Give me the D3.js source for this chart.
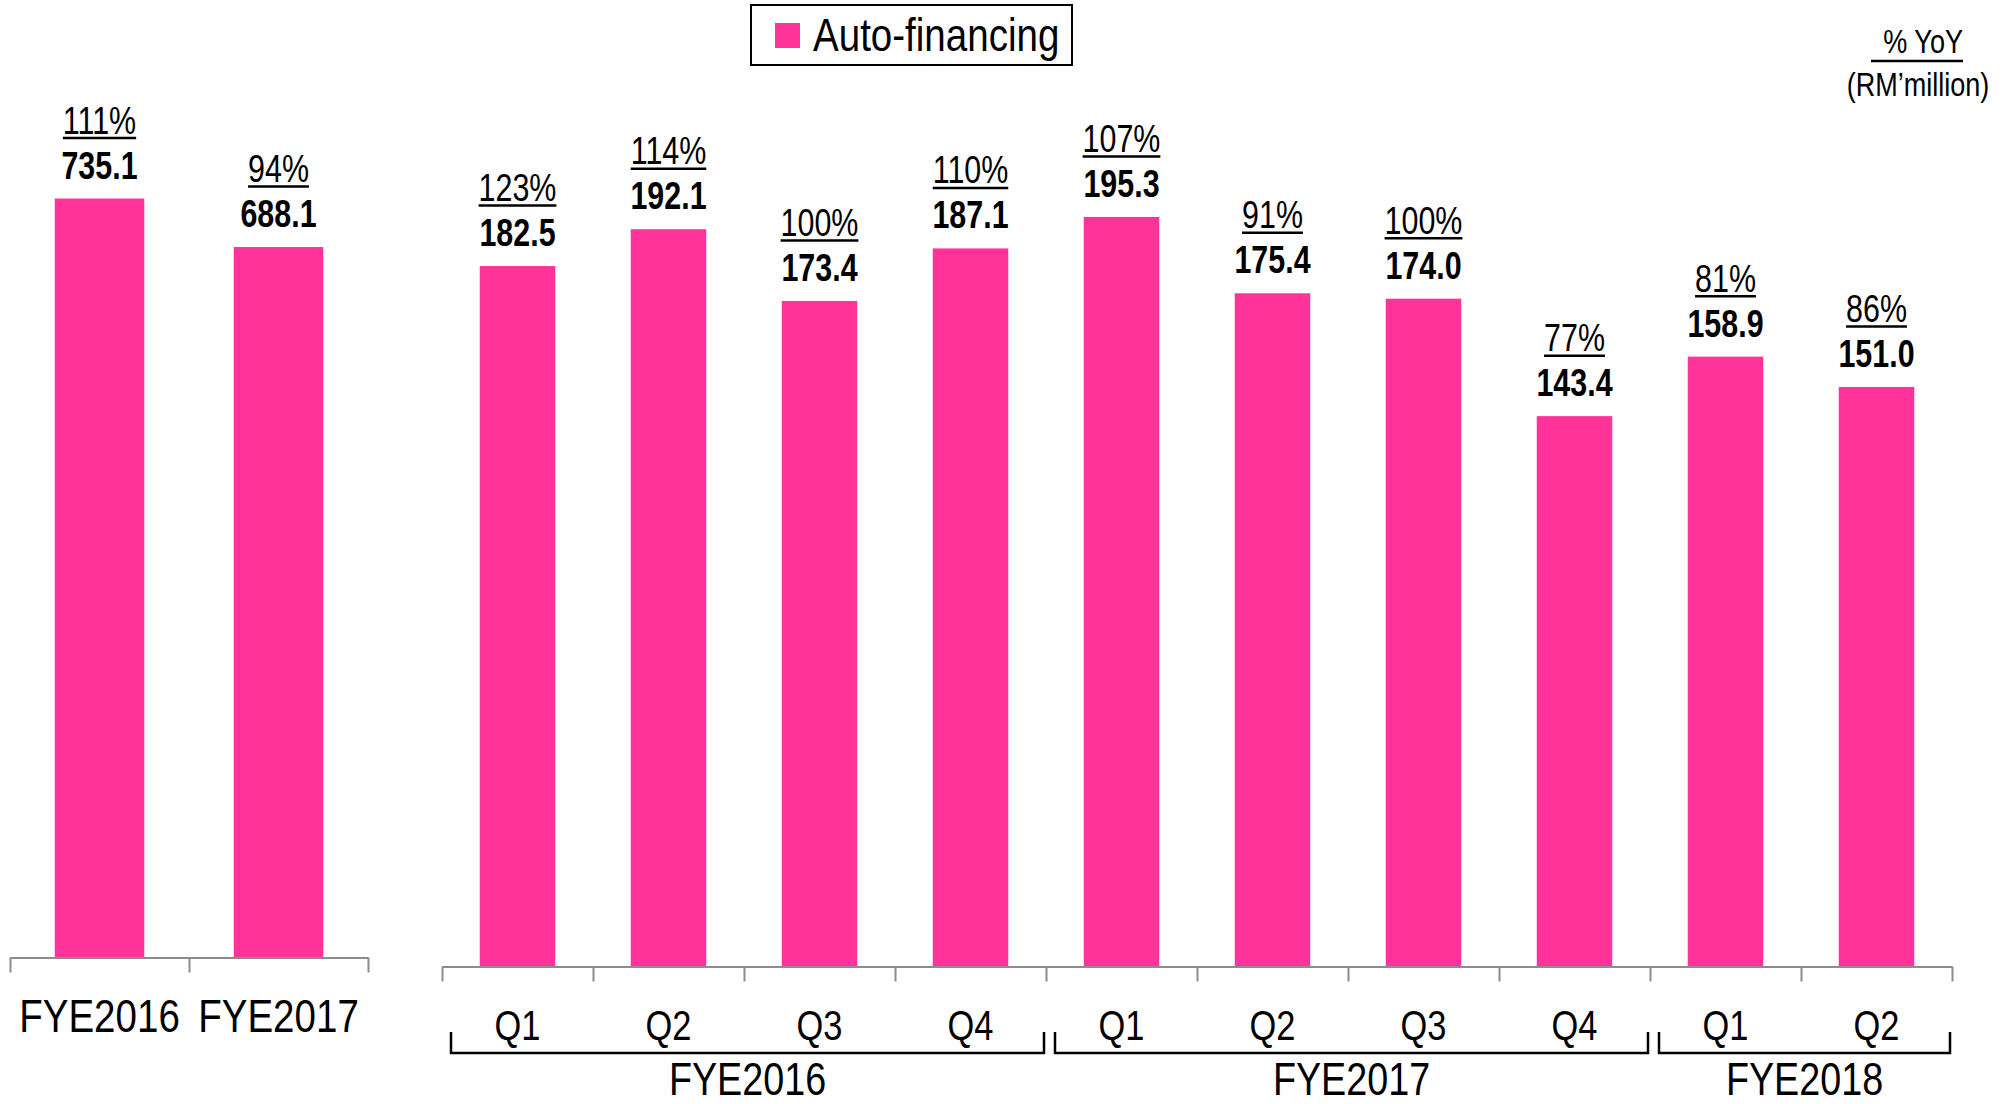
<!DOCTYPE html>
<html>
<head>
<meta charset="utf-8">
<script src="https://cdn.jsdelivr.net/npm/d3@7"></script>
<style>
  body { margin: 0; background: #fff; }
  text { font-family: "Liberation Sans", Arial, sans-serif; fill: #000; }
</style>
</head>
<body>
<script>
// data - annual totals (left) and quarterly (right), RM'million
var yearCats = ["FYE2016", "FYE2017"];
var yearVals = [735.1, 688.1];
var yearYoY = ["111%", "94%"];

var qCats = ["Q1", "Q2", "Q3", "Q4", "Q1", "Q2", "Q3", "Q4", "Q1", "Q2"];
var qVals = [182.5, 192.1, 173.4, 187.1, 195.3, 175.4, 174.0, 143.4, 158.9, 151.0];
var qYoY = ["123%", "114%", "100%", "110%", "107%", "91%", "100%", "77%", "81%", "86%"];

var groupNames = ["FYE2016", "FYE2017", "FYE2018"];
var groupSizes = [4, 4, 2];

var pink = "#ff3399";
var W = 2002, H = 1104;
var SQ = 0.82; // horizontal squeeze, narrow font look

var svg = d3.select("body").append("svg")
    .attr("width", W)
    .attr("height", H);

// put a text (or group) at x,y with narrow squeeze
function at(x, y, s) {
  return "translate(" + x + "," + y + ") scale(" + (s || SQ) + ",1)";
}

// scales
var xL = d3.scaleBand().domain(d3.range(yearVals.length)).range([10, 368]).paddingInner(0.5).paddingOuter(0.25);
var yL = d3.scaleLinear().domain([0, 800]).range([957.5, 957.5 - 800 * 1.0325]);
var bL = d3.scaleLinear().domain([0, yearVals.length]).range([10, 368]); // slot boundaries

var xR = d3.scaleBand().domain(d3.range(qVals.length)).range([442, 1952]).paddingInner(0.5).paddingOuter(0.25);
var yR = d3.scaleLinear().domain([0, 200]).range([966.5, 966.5 - 200 * 3.838]);
var bR = d3.scaleLinear().domain([0, qVals.length]).range([442, 1952]);

// draw one panel: bars, labels, axis
function panel(vals, yoy, cats, x, y, b, catSize, catY) {
  var g = svg.append("g");
  var cx = function(i) { return x(i) + x.bandwidth() / 2; };

  g.selectAll("rect.bar").data(vals).enter().append("rect")
      .attr("class", "bar")
      .attr("x", function(d, i) { return x(i); })
      .attr("y", function(d) { return y(d); })
      .attr("width", x.bandwidth())
      .attr("height", function(d) { return y(0) - y(d); })
      .attr("fill", pink);

  g.selectAll("text.val").data(vals).enter().append("text")
      .attr("class", "val")
      .attr("transform", function(d, i) { return at(cx(i), y(d) - 20, 0.78); })
      .attr("text-anchor", "middle")
      .style("font-size", "39px")
      .style("font-weight", "bold")
      .text(function(d) { return d.toFixed(1); });

  var pct = g.selectAll("g.pct").data(yoy).enter().append("g")
      .attr("class", "pct")
      .attr("transform", function(d, i) { return at(cx(i), y(vals[i]) - 65, 0.78); });
  pct.append("text")
      .attr("text-anchor", "middle")
      .style("font-size", "39px")
      .text(function(d) { return d; });
  pct.each(function() {
    var t = d3.select(this).select("text").node().getBBox();
    d3.select(this).append("line")
        .attr("x1", t.x).attr("x2", t.x + t.width)
        .attr("y1", 4.5).attr("y2", 4.5)
        .attr("stroke", "#000").attr("stroke-width", 2.5);
  });

  // axis with ticks on slot boundaries
  var ax = g.append("g")
      .attr("transform", "translate(0," + y(0) + ")")
      .call(d3.axisBottom(b).tickValues(d3.range(vals.length + 1)).tickFormat("").tickSize(15).tickSizeOuter(0));
  ax.select(".domain").attr("stroke", "#8c8c8c").attr("stroke-width", 2);
  ax.selectAll(".tick line").attr("stroke", "#8c8c8c").attr("stroke-width", 2);

  g.selectAll("text.cat").data(cats).enter().append("text")
      .attr("class", "cat")
      .attr("transform", function(d, i) { return at(cx(i), catY); })
      .attr("text-anchor", "middle")
      .style("font-size", catSize + "px")
      .text(function(d) { return d; });
}

panel(yearVals, yearYoY, yearCats, xL, yL, bL, 47, 1032);
panel(qVals, qYoY, qCats, xR, yR, bR, 42, 1040);

// group brackets under quarters
var start = 0;
groupNames.forEach(function(name, k) {
  var x0 = bR(start) + 9, x1 = bR(start + groupSizes[k]) - 2;
  svg.append("path")
      .attr("d", "M" + x0 + ",1032V1053H" + x1 + "V1032")
      .attr("fill", "none")
      .attr("stroke", "#000")
      .attr("stroke-width", 2.5);
  svg.append("text")
      .attr("transform", at((x0 + x1) / 2, 1095))
      .attr("text-anchor", "middle")
      .style("font-size", "46px")
      .text(name);
  start += groupSizes[k];
});

// legend
var leg = svg.append("g");
leg.append("rect")
    .attr("x", 751).attr("y", 5).attr("width", 321).attr("height", 60)
    .attr("fill", "#fff").attr("stroke", "#000").attr("stroke-width", 2);
leg.append("rect")
    .attr("x", 775).attr("y", 23).attr("width", 25).attr("height", 25)
    .attr("fill", pink);
leg.append("text")
    .attr("transform", at(813, 51))
    .style("font-size", "47px")
    .text("Auto-financing");

// unit note top right
svg.append("text")
    .attr("transform", at(1963, 53))
    .attr("text-anchor", "end")
    .style("font-size", "33px")
    .text("% YoY");
svg.append("line")
    .attr("x1", 1871).attr("x2", 1963).attr("y1", 61).attr("y2", 61)
    .attr("stroke", "#000").attr("stroke-width", 2.5);
svg.append("text")
    .attr("transform", at(1918, 96))
    .attr("text-anchor", "middle")
    .style("font-size", "33px")
    .text("(RM\u2019million)");
</script>
</body>
</html>
